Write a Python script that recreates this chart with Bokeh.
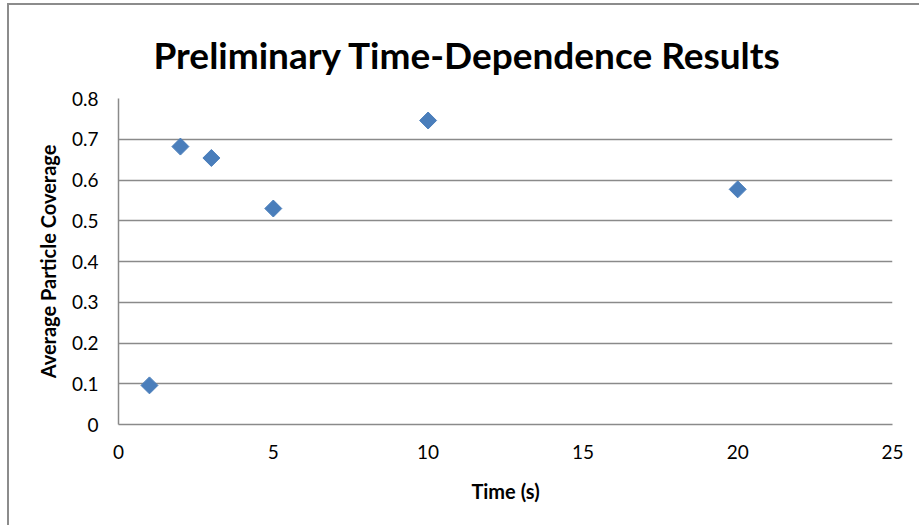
import numpy as np
from bokeh.plotting import figure
from bokeh.models import FixedTicker, NumeralTickFormatter, Range1d
from bokeh.embed import file_html
from bokeh.resources import INLINE

# data
time_s = [1, 2, 3, 5, 10, 20]
coverage = [0.096, 0.682, 0.654, 0.530, 0.746, 0.577]
x_ticks = [0, 5, 10, 15, 20, 25]
y_ticks = [0, 0.1, 0.2, 0.3, 0.4, 0.5, 0.6, 0.7, 0.8]
title_text = "Preliminary Time-Dependence Results"

FONT = "Lato"
GRAY = "#8a8a8a"

p = figure(width=916, height=526, output_backend="svg", toolbar_location=None,
           x_range=Range1d(0, 25), y_range=Range1d(0, 0.8),
           min_border_left=109, min_border_right=33,
           min_border_top=93, min_border_bottom=107,
           title=title_text)
p.styles = {"margin-left": "9px", "margin-top": "5px",
            "box-shadow": "-2px -2px 0 0 #8c8c8c"}
p.outline_line_color = None
p.background_fill_color = "white"
p.border_fill_color = "white"

p.title.align = "left"
p.title.offset = 35
p.title.vertical_align = "top"
p.title.standoff = 40
p.title.text_font = FONT
p.title.text_font_size = "37px"
p.title.text_font_style = "bold"
p.title.text_color = "black"

p.xgrid.grid_line_color = None
p.ygrid.grid_line_color = GRAY
p.ygrid.grid_line_width = 1.5

p.xaxis.ticker = FixedTicker(ticks=x_ticks)
p.yaxis.ticker = FixedTicker(ticks=y_ticks)
p.yaxis.formatter = NumeralTickFormatter(format="0.[0]")

for ax in (p.xaxis, p.yaxis):
    ax.axis_line_color = GRAY
    ax.axis_line_width = 1.5
    ax.major_tick_line_color = None
    ax.minor_tick_line_color = None
    ax.major_tick_out = 0
    ax.major_tick_in = 0
    ax.major_label_text_font = FONT
    ax.major_label_text_font_size = "19px"
    ax.major_label_text_color = "black"
    ax.axis_label_text_font = FONT
    ax.axis_label_text_font_size = "20px"
    ax.axis_label_text_font_style = "bold"
    ax.axis_label_text_color = "black"

p.xaxis.axis_label = "Time (s)"
p.yaxis.axis_label = "Average Particle Coverage"
p.xaxis.major_label_standoff = 20
p.yaxis.major_label_standoff = 20
p.xaxis.axis_label_standoff = 17
p.yaxis.axis_label_standoff = 9

p.scatter(time_s, coverage, marker="square", angle=np.pi / 4, size=12,
          fill_color="#4A7EBB", line_color="#4A7EBB")

open("out.html", "w").write(file_html(p, INLINE))
